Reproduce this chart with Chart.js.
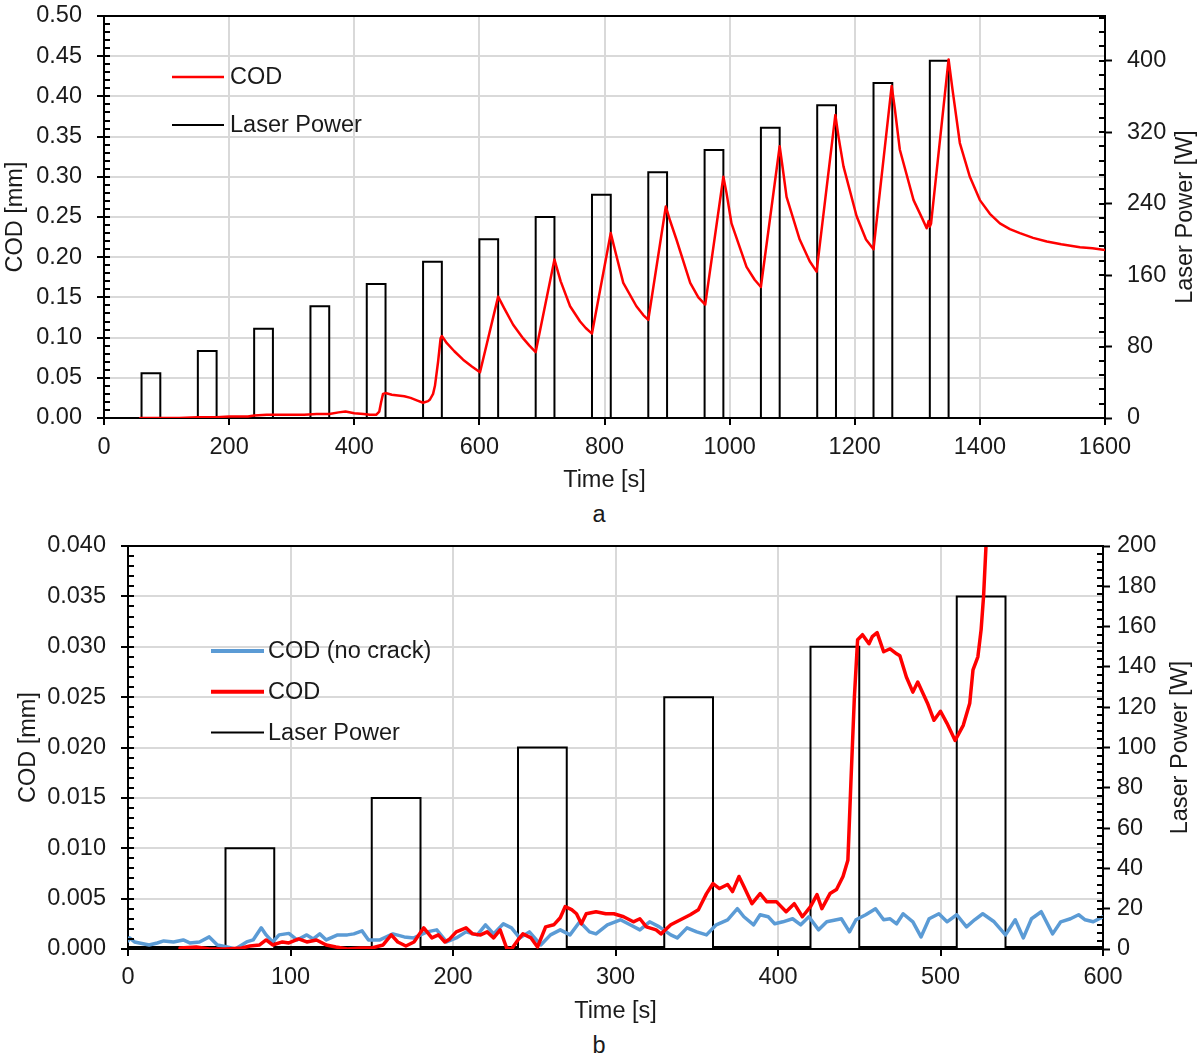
<!DOCTYPE html>
<html><head><meta charset="utf-8">
<script src="https://cdn.jsdelivr.net/npm/chart.js@4.4.1/dist/chart.umd.min.js"></script>
<style>
html,body{margin:0;padding:0;background:#fff;}
body{width:1198px;height:1053px;position:relative;overflow:hidden;font-family:'Liberation Sans',Arial,sans-serif;}
.box{position:absolute;left:0;width:1198px;height:500px;}
.cap{position:absolute;left:0;width:1198px;text-align:center;font-size:23.5px;color:#1a1a1a;line-height:28px;}
</style></head><body>
<div class="box" style="top:0"><canvas id="chartA"></canvas></div>
<div class="cap" style="top:500px">a</div>
<div class="box" style="top:530px"><canvas id="chartB"></canvas></div>
<div class="cap" style="top:1031px">b</div>
<script>
// ================= Chart (a) data =================
const timeTicksA  = [0,200,400,600,800,1000,1200,1400,1600];
const codTicksA   = [0,0.05,0.10,0.15,0.20,0.25,0.30,0.35,0.40,0.45,0.50];
const powerTicksA = [0,80,160,240,320,400];
const powerMaxA   = 450;
const pulseStartA = [60,150,240,330,420,510,600,690,780,870,960,1050,1140,1230,1320];
const pulseEndA   = [90,180,270,360,450,540,630,720,810,900,990,1080,1170,1260,1350];
const pulsePowerA = [50,75,100,125,150,175,200,225,250,275,300,325,350,375,400];
const laserBaseA  = 0;
const codTimeA  = [58,90,120,150,180,200,230,240,260,290,320,340,360,375,386,400,415,425,435,440,443,446,450,460,470,480,490,500,510,518,521,526,529,534,538,540,548,560,574,588,601,630,640,654,670,680,690,720,730,745,761,770,780,810,818,830,851,862,870,898,905,915,937,950,961,990,995,1003,1027,1040,1050,1080,1085,1091,1112,1128,1139,1169,1174,1182,1203,1218,1230,1259,1264,1272,1294,1308,1315,1318,1320,1322,1350,1356,1368,1384,1400,1416,1432,1448,1464,1485,1507,1530,1560,1580,1600];
const codValueA = [0.000,0.000,0.000,0.001,0.001,0.002,0.002,0.003,0.004,0.004,0.004,0.005,0.005,0.007,0.008,0.006,0.005,0.004,0.004,0.008,0.020,0.030,0.031,0.029,0.028,0.027,0.025,0.022,0.019,0.021,0.023,0.030,0.040,0.070,0.099,0.102,0.093,0.083,0.0725,0.064,0.057,0.151,0.136,0.116,0.099,0.090,0.082,0.197,0.170,0.139,0.120,0.112,0.105,0.230,0.205,0.168,0.139,0.128,0.122,0.263,0.245,0.222,0.168,0.150,0.141,0.300,0.280,0.242,0.188,0.172,0.163,0.338,0.310,0.275,0.222,0.195,0.182,0.377,0.350,0.313,0.251,0.222,0.210,0.413,0.385,0.334,0.271,0.248,0.236,0.245,0.238,0.242,0.446,0.410,0.342,0.300,0.271,0.254,0.242,0.235,0.230,0.224,0.2195,0.216,0.2125,0.211,0.209];

// ================= Chart (b) data =================
const timeTicksB  = [0,100,200,300,400,500,600];
const codTicksB   = [0,0.005,0.010,0.015,0.020,0.025,0.030,0.035,0.040];
const powerTicksB = [0,20,40,60,80,100,120,140,160,180,200];
const powerMaxB   = 200;
const pulseStartB = [60,150,240,330,420,510];
const pulseEndB   = [90,180,270,360,450,540];
const pulsePowerB = [50,75,100,125,150,175];
const laserBaseB  = 1;
const codTimeB  = [32,42,50,60,70,75,81,85,89,95,99,105,110,116,122,128,135,143,150,157,162,166,171,176,182,187,191,195,198,202,208,212,217,221,225,229,233,236,240,243,248,252,257,262,266,269,273,276,279,282,288,294,299,305,311,315,319,325,328,334,340,346,351,356,360,364,369,372,376,379,384,389,393,399,405,410,415,420,424,427,432,436,440,443,445,447,449,452,456,458,461,465,469,473,475,479,483,486,492,496,500,504,509,514,518,520,523,525,526.5,528,530,533];
const codValueB = [0.0001,0.0002,0.0000,0.0000,0.0001,0.0003,0.0004,0.0009,0.0004,0.0007,0.0006,0.0010,0.0007,0.0009,0.0004,0.0002,0.0000,0.0001,0.0001,0.0004,0.0014,0.0007,0.0003,0.0007,0.0021,0.0011,0.0014,0.0007,0.0010,0.0017,0.0021,0.0015,0.0014,0.0017,0.0011,0.0019,0.0001,0.0000,0.0009,0.0015,0.0011,0.0002,0.0022,0.0024,0.0031,0.0042,0.0039,0.0035,0.0025,0.0035,0.0037,0.0035,0.0035,0.0032,0.0027,0.0030,0.0022,0.0019,0.0015,0.0024,0.0029,0.0034,0.0039,0.0055,0.0065,0.0060,0.0064,0.0057,0.0072,0.0062,0.0045,0.0055,0.0047,0.0047,0.0037,0.0045,0.0032,0.0042,0.0054,0.0040,0.0055,0.0059,0.0072,0.0088,0.0171,0.0250,0.0307,0.0312,0.0303,0.0310,0.0314,0.0295,0.0298,0.0293,0.0291,0.0270,0.0255,0.0265,0.0244,0.0227,0.0236,0.0224,0.0207,0.0222,0.0244,0.0277,0.0290,0.0317,0.0350,0.0400,0.0460,0.0550];
const refTimeB  = [0,1,4,7,13,18,22,28,34,38,44,50,55,61,66,70,73,77,82,85,89,93,99,104,110,114,118,122,129,135,139,144,148,155,163,170,176,184,190,196,202,208,215,220,225,231,236,241,247,254,260,266,272,278,284,288,295,303,309,315,321,327,334,338,344,350,356,362,369,375,379,385,389,394,398,403,409,414,419,425,430,436,439,444,448,454,460,465,469,473,477,483,488,493,499,504,510,516,521,526,533,540,546,551,556,562,569,574,580,585,589,594,600];
const refValueB = [0.0008,0.0011,0.0007,0.0006,0.0004,0.0006,0.0008,0.0007,0.0009,0.0006,0.0007,0.0012,0.0004,0.0002,0.0000,0.0004,0.0007,0.0009,0.0021,0.0014,0.0007,0.0014,0.00155,0.0009,0.0014,0.0010,0.0015,0.0009,0.0014,0.0014,0.0015,0.0018,0.0009,0.0009,0.0015,0.0012,0.0011,0.0017,0.0019,0.0007,0.0011,0.0017,0.0014,0.0024,0.0015,0.0025,0.0021,0.0011,0.0017,0.0004,0.0014,0.0019,0.0014,0.0027,0.0017,0.0015,0.0024,0.0029,0.0024,0.0019,0.0027,0.0022,0.0014,0.0011,0.0021,0.0017,0.0014,0.0024,0.0029,0.0040,0.0032,0.0024,0.0034,0.0032,0.0025,0.0027,0.0030,0.0024,0.0032,0.0019,0.0027,0.0029,0.0030,0.0017,0.0029,0.0034,0.0040,0.0029,0.0030,0.0025,0.0035,0.0027,0.0012,0.0030,0.0035,0.0027,0.0034,0.0022,0.0029,0.0035,0.0027,0.0014,0.0029,0.0011,0.0030,0.0037,0.0015,0.0027,0.0030,0.0034,0.0029,0.0027,0.0032];

// ================= helpers =================
const FONT = "'Liberation Sans', Arial, sans-serif";
const FS = 23.5;
const TXT = '#1a1a1a';
const GRID = '#d9d9d9';
Chart.defaults.font.family = FONT;
Chart.defaults.font.size = FS;
Chart.defaults.color = TXT;

function pairs(ts, vs){ return ts.map((t,i)=>({x:t, y:vs[i]})); }
function laserSteps(starts, ends, powers, base, t0, t1){
  const pts = [{x:t0, y:base}];
  starts.forEach((s,i)=>{
    pts.push({x:s,y:base},{x:s,y:powers[i]},{x:ends[i],y:powers[i]},{x:ends[i],y:base});
  });
  pts.push({x:t1, y:base});
  return pts;
}
function noPad(s){ s.paddingTop = 0; s.paddingBottom = 0; s.paddingLeft = 0; s.paddingRight = 0; }

const frameMinor = {
  id:'frameMinor',
  afterDraw(chart, args, o){
    const ctx = chart.ctx, a = chart.chartArea;
    ctx.save();
    ctx.strokeStyle = '#000'; ctx.lineWidth = 2; ctx.lineCap = 'square';
    ctx.beginPath(); ctx.moveTo(a.left, a.top); ctx.lineTo(a.right, a.top); ctx.stroke();
    ctx.lineCap = 'butt';
    for (const id of ['y','y1']) {
      const s = chart.scales[id], step = o.minor[id];
      const n = Math.floor((s.max - s.min)/step + 1e-6);
      const x0 = id === 'y' ? a.left : a.right;
      const dir = id === 'y' ? 1 : -1;
      ctx.beginPath();
      for (let i = 0; i <= n; i++) {
        const p = Math.round(s.getPixelForValue(s.min + i*step));
        ctx.moveTo(x0, p); ctx.lineTo(x0 + dir*6, p);
      }
      ctx.stroke();
    }
    ctx.restore();
  }
};

const inLegend = {
  id:'inLegend',
  afterDraw(chart, args, o){
    const ctx = chart.ctx, a = chart.chartArea;
    ctx.save();
    ctx.font = FS + 'px ' + FONT;
    ctx.textBaseline = 'middle'; ctx.textAlign = 'left'; ctx.fillStyle = TXT;
    o.order.forEach((di, k)=>{
      const ds = chart.data.datasets[di];
      const y = a.top + o.y + k*o.rowH;
      ctx.strokeStyle = ds.borderColor; ctx.lineWidth = o.widths[k];
      ctx.beginPath(); ctx.moveTo(a.left + o.x, y); ctx.lineTo(a.left + o.x + o.len, y); ctx.stroke();
      ctx.fillText(ds.label, a.left + o.x + o.len + o.gap, y + 1);
    });
    ctx.restore();
  }
};

const rightTitle = {
  id:'rightTitle',
  afterDraw(chart, args, o){
    const ctx = chart.ctx, a = chart.chartArea;
    ctx.save();
    ctx.translate(chart.width - o.offset, (a.top + a.bottom)/2);
    ctx.rotate(-Math.PI/2);
    ctx.font = FS + 'px ' + FONT;
    ctx.textAlign = 'center'; ctx.textBaseline = 'middle'; ctx.fillStyle = TXT;
    ctx.fillText(o.text, 0, 0);
    ctx.restore();
  }
};

function buildChart(id, c){
  const last = arr => arr[arr.length-1];
  return new Chart(document.getElementById(id), {
    type:'line',
    data:{datasets:c.datasets},
    options:{
      responsive:true, maintainAspectRatio:false, animation:false,
      layout:{padding:{top:c.padTop, left:0, right:0, bottom:0}},
      elements:{point:{radius:0}, line:{tension:0, borderJoinStyle:'round', borderCapStyle:'round'}},
      plugins:{
        legend:{display:false}, tooltip:{enabled:false},
        inLegend:c.legend, rightTitle:c.rightTitle, frameMinor:{minor:c.minor}
      },
      scales:{
        x:{
          type:'linear', position:'bottom', min:c.xTicks[0], max:last(c.xTicks),
          afterBuildTicks:s=>{ s.ticks = c.xTicks.map(v=>({value:v})); },
          afterFit:s=>{ s.height = c.xHeight; noPad(s); },
          ticks:{padding:c.xPad, color:TXT, maxRotation:0, autoSkip:false, callback:v=>String(v)},
          grid:{color:GRID, lineWidth:2, tickColor:'#000', tickWidth:2, tickLength:7},
          border:{color:'#000', width:2},
          title:{display:true, text:'Time [s]', color:TXT, padding:{top:0, bottom:c.xTitlePad}}
        },
        y:{
          type:'linear', position:'left', min:c.yTicks[0], max:last(c.yTicks),
          afterBuildTicks:s=>{ s.ticks = c.yTicks.map(v=>({value:v})); },
          afterFit:s=>{ s.width = c.leftW; noPad(s); },
          ticks:{padding:15, color:TXT, autoSkip:false, callback:v=>Number(v).toFixed(c.yDec)},
          grid:{color:GRID, lineWidth:2, tickColor:'#000', tickWidth:2, tickLength:7},
          border:{color:'#000', width:2},
          title:{display:true, text:'COD [mm]', color:TXT, padding:{top:c.yTitlePad, bottom:0}}
        },
        y1:{
          type:'linear', position:'right', min:0, max:c.y1Max,
          afterBuildTicks:s=>{ s.ticks = c.y1Ticks.map(v=>({value:v})); },
          afterFit:s=>{ s.width = c.rightW; noPad(s); },
          ticks:{padding:c.y1Pad, color:TXT, autoSkip:false, callback:v=>String(v)},
          grid:{drawOnChartArea:false, tickColor:'#000', tickWidth:2, tickLength:7},
          border:{color:'#000', width:2}
        }
      }
    },
    plugins:[frameMinor, inLegend, rightTitle]
  });
}

// ================= Chart (a) =================
buildChart('chartA', {
  datasets:[
    {label:'COD', data:pairs(codTimeA, codValueA), borderColor:'#ff0000', borderWidth:2.5, yAxisID:'y', order:0},
    {label:'Laser Power', data:laserSteps(pulseStartA, pulseEndA, pulsePowerA, laserBaseA, timeTicksA[0], timeTicksA[timeTicksA.length-1]),
     borderColor:'#000000', borderWidth:2, yAxisID:'y1', order:1, borderJoinStyle:'miter'}
  ],
  xTicks:timeTicksA, yTicks:codTicksA, y1Ticks:powerTicksA, y1Max:powerMaxA, yDec:2,
  padTop:16, xHeight:82, leftW:104, rightW:93,
  xPad:8, xTitlePad:5, yTitlePad:1, y1Pad:15,
  minor:{y:0.01, y1:16},
  legend:{order:[0,1], widths:[2.5,2], x:68, y:61, rowH:48, len:52, gap:6},
  rightTitle:{text:'Laser Power [W]', offset:12}
});

// ================= Chart (b) =================
buildChart('chartB', {
  datasets:[
    {label:'COD (no crack)', data:pairs(refTimeB, refValueB), borderColor:'#5b9bd5', borderWidth:3.5, yAxisID:'y', order:1},
    {label:'COD', data:pairs(codTimeB, codValueB), borderColor:'#ff0000', borderWidth:3.5, yAxisID:'y', order:0},
    {label:'Laser Power', data:laserSteps(pulseStartB, pulseEndB, pulsePowerB, laserBaseB, timeTicksB[0], timeTicksB[timeTicksB.length-1]),
     borderColor:'#000000', borderWidth:2, yAxisID:'y1', order:2, borderJoinStyle:'miter'}
  ],
  xTicks:timeTicksB, yTicks:codTicksB, y1Ticks:powerTicksB, y1Max:powerMaxB, yDec:3,
  padTop:16, xHeight:81, leftW:128, rightW:95,
  xPad:7, xTitlePad:4, yTitlePad:14, y1Pad:7,
  minor:{y:0.001, y1:4},
  legend:{order:[0,1,2], widths:[4,4,2], x:83, y:105, rowH:40.8, len:53, gap:4},
  rightTitle:{text:'Laser Power [W]', offset:17}
});
</script>
</body></html>
